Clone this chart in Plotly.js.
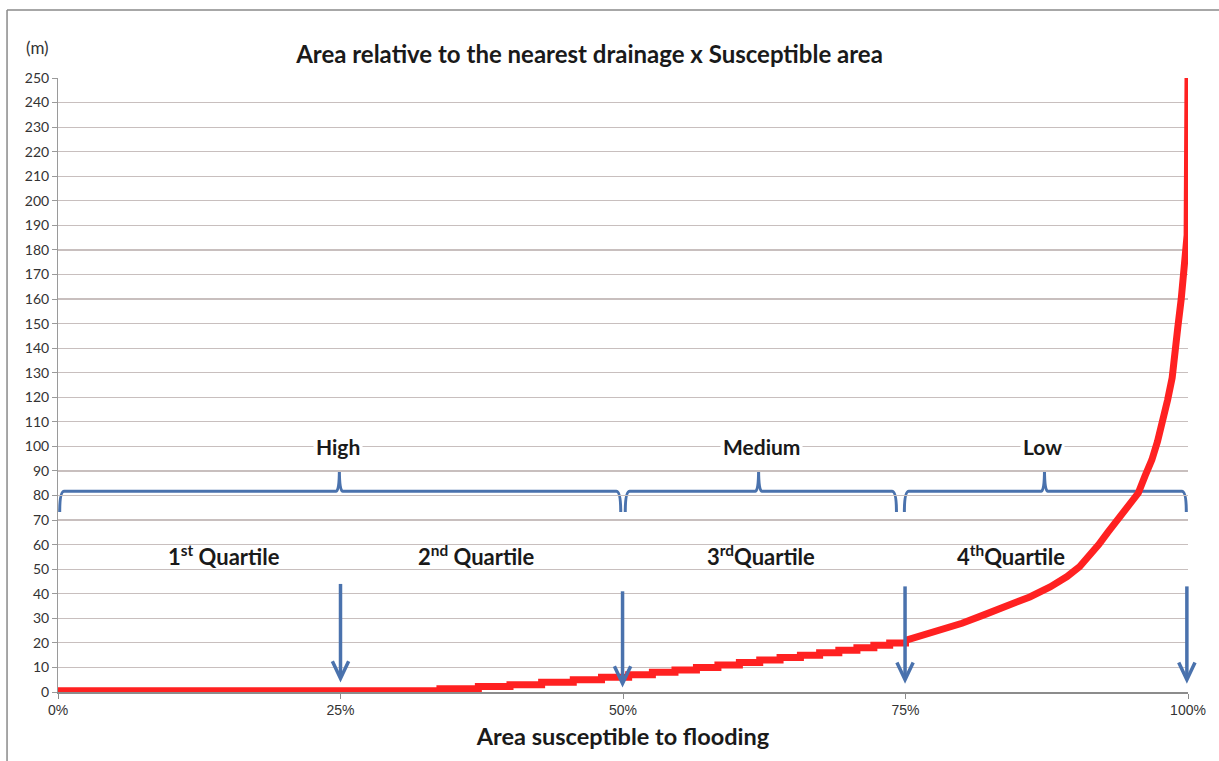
<!DOCTYPE html>
<html>
<head>
<meta charset="utf-8">
<script src="https://cdn.plot.ly/plotly-3.0.1.min.js"></script>
<style>html,body{margin:0;padding:0;background:#fff}#chart{width:1219px;height:761px}</style>
</head>
<body>
<div id="chart"></div>
<script>
// Stepped low part of the curve (percent of area, distance in m)
const stepPct = [0, 33.8, 37.2, 40.0, 42.8, 45.6, 48.1, 50.5, 52.6, 54.6, 56.5, 58.4, 60.3, 62.1, 63.9, 65.7, 67.4, 69.1, 70.7, 72.2, 73.6, 75.0];
const stepVal = [0.5, 1.3, 2.2, 3, 4, 5, 6, 7, 8, 9, 10, 11, 12, 13, 14, 15, 16, 17, 18, 19, 20, 21];
// Upper smooth part of the curve
const upperPct = [75.0, 76.5, 78.0, 80.0, 82.0, 84.0, 86.0, 87.8, 89.3, 90.4, 91.3, 92.1, 92.9, 93.7, 94.6, 95.6, 96.2, 96.8, 97.3, 97.8, 98.2, 98.6, 98.9, 99.1, 99.4, 99.6, 99.8, 99.92, 100];
const upperVal = [21, 23, 25, 28, 31.5, 35, 38.7, 42.8, 47, 51, 55.5, 60, 65, 70, 75.5, 81, 88, 94.5, 102, 110.7, 119, 128, 138, 148.6, 160, 170.6, 180, 186, 250];

const X_RANGE = [0, 100];
const Y_RANGE = [0, 250];
const xTickVals = [0, 25, 50, 75, 100];
const xTickText = ['0%', '25%', '50%', '75%', '100%'];

// Risk classes (braces)
const classLabels = ['High', 'Medium', 'Low'];
const braceStart = [0.15, 50.2, 74.9];
const braceEnd = [49.8, 74.2, 99.85];
const bracePeak = [24.9, 62.0, 87.3];
const classLabelX = [24.8, 62.3, 87.1];
const classLabelY = [99.8, 99.8, 99.8];

// Quartile labels
const quartileLabels = ['1<sup>st</sup> Quartile', '2<sup>nd</sup> Quartile', '3<sup>rd</sup>Quartile', '4<sup>th</sup>Quartile'];
const quartileX = [14.7, 37.0, 62.2, 84.3];
const quartileY = [55.5, 55.5, 55.5, 55.5];

// Quartile arrows
const arrowX = [25.0, 49.96, 74.96, 99.9];
const arrowTop = [44, 41, 43, 43];
const arrowTip = [5.5, 3.5, 5, 5];

const RED = '#ff2121';
const BLUE = '#4a72ad';
const FONT = 'Lato, "Open Sans", sans-serif';

const traces = [
  {x: stepPct, y: stepVal, type: 'scatter', mode: 'lines', line: {color: RED, width: 7, shape: 'hv'}, hoverinfo: 'skip'},
  {x: upperPct, y: upperVal, type: 'scatter', mode: 'lines', line: {color: RED, width: 7}, hoverinfo: 'skip'}
];

// fraction of the x-axis domain for a percent value (so the arrow at 100% is not clipped)
const xFrac = v => (v - X_RANGE[0]) / (X_RANGE[1] - X_RANGE[0]);

const braceLevel = 81.7, braceFoot = 73.3, bracePeakTop = 90.4;
const shapes = [];
for (let i = 0; i < braceStart.length; i++) {
  const s = braceStart[i], e = braceEnd[i], p = bracePeak[i];
  const path = `M ${s},${braceFoot} Q ${s},${braceLevel} ${s + 0.4},${braceLevel} L ${p - 0.3},${braceLevel} Q ${p},${braceLevel} ${p},${bracePeakTop} Q ${p},${braceLevel} ${p + 0.3},${braceLevel} L ${e - 0.4},${braceLevel} Q ${e},${braceLevel} ${e},${braceFoot}`;
  shapes.push({type: 'path', xref: 'x', yref: 'y', path: path, line: {color: BLUE, width: 3}, layer: 'below'});
}
for (let i = 0; i < arrowX.length; i++) {
  const x = xFrac(arrowX[i]);
  const hw = 0.0072;
  shapes.push({type: 'line', xref: 'x domain', yref: 'y', x0: x, x1: x, y0: arrowTop[i], y1: arrowTip[i] + 0.8, line: {color: BLUE, width: 3.5}});
  shapes.push({type: 'path', xref: 'x domain', yref: 'y', path: `M ${x - hw},${arrowTip[i] + 7} L ${x},${arrowTip[i]} L ${x + hw},${arrowTip[i] + 7}`, line: {color: BLUE, width: 3.5}});
}
// outer frame (left and top border)
shapes.push({type: 'line', xref: 'paper', yref: 'paper', x0: -0.0451, x1: -0.0451, y0: -0.2, y1: 1.1107, line: {color: '#8a8a8a', width: 1.5}});
shapes.push({type: 'line', xref: 'paper', yref: 'paper', x0: -0.0451, x1: 1.05, y0: 1.1107, y1: 1.1107, line: {color: '#8a8a8a', width: 1.5}});

const annotations = [];
for (let i = 0; i < classLabels.length; i++) {
  annotations.push({x: classLabelX[i], y: classLabelY[i], xref: 'x', yref: 'y', text: classLabels[i], showarrow: false, bgcolor: '#ffffff', borderpad: 2, font: {family: FONT, size: 21, color: '#1a1a1a', weight: 'bold'}});
}
for (let i = 0; i < quartileLabels.length; i++) {
  annotations.push({x: quartileX[i], y: quartileY[i], xref: 'x', yref: 'y', text: quartileLabels[i], showarrow: false, font: {family: FONT, size: 22, color: '#1a1a1a', weight: 'bold'}});
}
annotations.push({x: -0.0181, y: 1.05, xref: 'paper', yref: 'paper', xanchor: 'center', yanchor: 'middle', text: '(m)', showarrow: false, font: {family: FONT, size: 17, color: '#333'}});

const layout = {
  width: 1219, height: 761,
  margin: {l: 58, r: 31, t: 78, b: 69},
  paper_bgcolor: '#ffffff', plot_bgcolor: '#ffffff',
  showlegend: false,
  title: {text: 'Area relative to the nearest drainage x Susceptible area', x: 0.4836, xanchor: 'center', y: 0.9277, yanchor: 'middle', xref: 'container', yref: 'container', font: {family: FONT, size: 24, color: '#1a1a1a', weight: 'bold'}},
  xaxis: {range: X_RANGE, tickvals: xTickVals, ticktext: xTickText, showgrid: false, zeroline: false, showline: true, linecolor: '#8c8c8c', linewidth: 1.5, ticks: 'outside', ticklen: 5, tickcolor: '#8c8c8c', tickfont: {family: '"Liberation Sans Narrow", "Liberation Sans", sans-serif', size: 14, color: '#333'},
    title: {text: 'Area susceptible to flooding', standoff: 11, font: {family: FONT, size: 23.5, color: '#1a1a1a', weight: 'bold'}}, fixedrange: true},
  yaxis: {range: Y_RANGE, dtick: 10, showgrid: true, gridcolor: '#c8bfbe', gridwidth: 1.2, zeroline: false, showline: true, linecolor: '#9a9a9a', linewidth: 1, ticks: 'outside', ticklen: 5, tickcolor: '#9a9a9a', tickfont: {family: FONT, size: 14, color: '#333'}, fixedrange: true},
  shapes: shapes,
  annotations: annotations
};

Plotly.newPlot('chart', traces, layout, {staticPlot: true, displayModeBar: false});
</script>
</body>
</html>
